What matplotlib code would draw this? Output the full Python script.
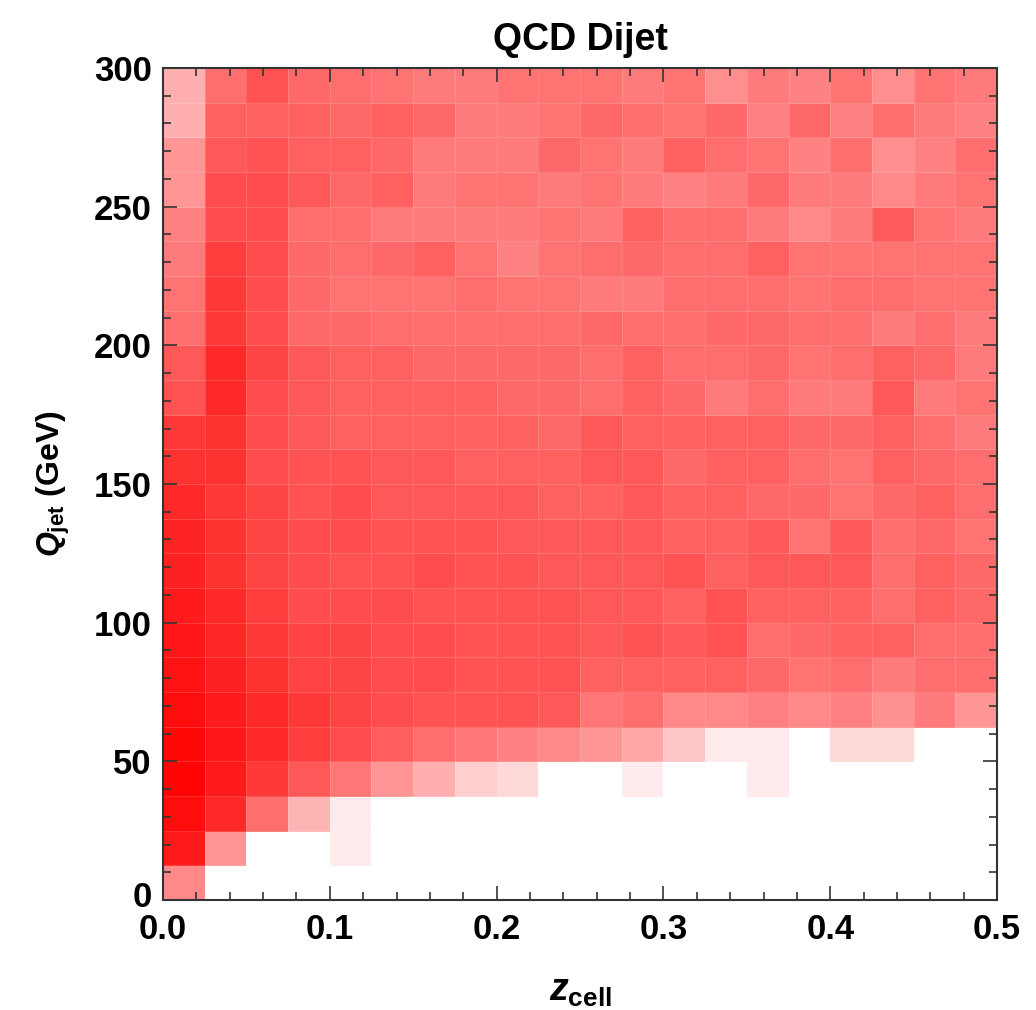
import numpy as np
import matplotlib
matplotlib.use('Agg')
import matplotlib.pyplot as plt
from matplotlib.colors import LinearSegmentedColormap
from matplotlib.transforms import ScaledTranslation

plt.rcParams['font.family'] = ['Liberation Sans', 'DejaVu Sans']
plt.rcParams['font.weight'] = 'bold'
plt.rcParams['mathtext.fontset'] = 'custom'
plt.rcParams['mathtext.it'] = 'Liberation Sans:italic:bold'
plt.rcParams['mathtext.rm'] = 'Liberation Sans:bold'
plt.rcParams['mathtext.bf'] = 'Liberation Sans:bold'

# binning: z_cell 0..0.5 in 20 bins, Q_jet 0..300 GeV in 24 bins
z_edges = np.linspace(0.0, 0.5, 21)
q_edges = np.linspace(0.0, 300.0, 25)

# relative density per bin, one line per Q_jet bin (bottom -> top), columns z_cell 0 -> 0.5
density = [
    [0.50, 0, 0, 0, 0, 0, 0, 0, 0, 0, 0, 0, 0, 0, 0, 0, 0, 0, 0, 0],                                  # 0-12.5
    [0.90, 0.45, 0, 0, 0.10, 0, 0, 0, 0, 0, 0, 0, 0, 0, 0, 0, 0, 0, 0, 0],                            # 12.5-25
    [0.95, 0.85, 0.60, 0.33, 0.10, 0, 0, 0, 0, 0, 0, 0, 0, 0, 0, 0, 0, 0, 0, 0],                      # 25-37.5
    [0.98, 0.90, 0.80, 0.68, 0.57, 0.45, 0.35, 0.22, 0.18, 0, 0, 0.10, 0, 0, 0.10, 0, 0, 0, 0, 0],    # 37.5-50
    [0.97, 0.92, 0.85, 0.78, 0.72, 0.66, 0.60, 0.56, 0.52, 0.50,
     0.45, 0.38, 0.25, 0.10, 0.10, 0, 0.18, 0.18, 0, 0],                                              # 50-62.5
    [0.95, 0.90, 0.85, 0.80, 0.75, 0.72, 0.70, 0.70, 0.70, 0.68,
     0.57, 0.60, 0.50, 0.50, 0.53, 0.50, 0.53, 0.47, 0.55, 0.45],                                     # 62.5-75
    [0.93, 0.88, 0.82, 0.76, 0.75, 0.72, 0.72, 0.70, 0.70, 0.70,
     0.65, 0.65, 0.65, 0.65, 0.62, 0.58, 0.60, 0.55, 0.60, 0.60],                                     # 75-87.5
    [0.92, 0.86, 0.80, 0.76, 0.75, 0.72, 0.72, 0.70, 0.70, 0.70,
     0.68, 0.70, 0.68, 0.70, 0.60, 0.62, 0.65, 0.65, 0.60, 0.60],                                     # 87.5-100
    [0.90, 0.85, 0.78, 0.72, 0.72, 0.72, 0.70, 0.70, 0.70, 0.70,
     0.68, 0.68, 0.65, 0.70, 0.65, 0.65, 0.65, 0.60, 0.65, 0.62],                                     # 100-112.5
    [0.88, 0.82, 0.75, 0.72, 0.70, 0.70, 0.72, 0.70, 0.70, 0.68,
     0.68, 0.68, 0.70, 0.65, 0.68, 0.68, 0.68, 0.60, 0.65, 0.62],                                     # 112.5-125
    [0.87, 0.82, 0.75, 0.72, 0.72, 0.70, 0.70, 0.70, 0.68, 0.68,
     0.68, 0.68, 0.65, 0.65, 0.68, 0.58, 0.68, 0.60, 0.62, 0.58],                                     # 125-137.5
    [0.85, 0.80, 0.75, 0.70, 0.72, 0.68, 0.68, 0.68, 0.68, 0.65,
     0.65, 0.68, 0.65, 0.65, 0.62, 0.62, 0.58, 0.62, 0.65, 0.60],                                     # 137.5-150
    [0.82, 0.82, 0.72, 0.70, 0.70, 0.68, 0.68, 0.65, 0.65, 0.65,
     0.68, 0.68, 0.62, 0.65, 0.65, 0.60, 0.58, 0.65, 0.62, 0.60],                                     # 150-162.5
    [0.80, 0.82, 0.72, 0.68, 0.65, 0.65, 0.65, 0.65, 0.65, 0.62,
     0.68, 0.65, 0.65, 0.65, 0.65, 0.62, 0.62, 0.65, 0.60, 0.55],                                     # 162.5-175
    [0.70, 0.85, 0.72, 0.68, 0.65, 0.65, 0.65, 0.65, 0.62, 0.62,
     0.60, 0.65, 0.62, 0.55, 0.60, 0.55, 0.55, 0.68, 0.55, 0.58],                                     # 175-187.5
    [0.68, 0.85, 0.75, 0.68, 0.65, 0.65, 0.62, 0.62, 0.62, 0.62,
     0.60, 0.65, 0.60, 0.60, 0.62, 0.58, 0.60, 0.65, 0.62, 0.55],                                     # 187.5-200
    [0.60, 0.80, 0.72, 0.62, 0.62, 0.60, 0.60, 0.60, 0.60, 0.60,
     0.62, 0.60, 0.60, 0.62, 0.62, 0.60, 0.60, 0.55, 0.60, 0.55],                                     # 200-212.5
    [0.58, 0.80, 0.72, 0.62, 0.58, 0.58, 0.58, 0.60, 0.58, 0.58,
     0.55, 0.55, 0.60, 0.60, 0.60, 0.58, 0.60, 0.60, 0.58, 0.58],                                     # 212.5-225
    [0.55, 0.78, 0.72, 0.62, 0.60, 0.62, 0.65, 0.58, 0.52, 0.58,
     0.60, 0.62, 0.60, 0.60, 0.65, 0.58, 0.58, 0.58, 0.58, 0.58],                                     # 225-237.5
    [0.53, 0.72, 0.72, 0.60, 0.60, 0.55, 0.55, 0.55, 0.55, 0.58,
     0.55, 0.65, 0.60, 0.60, 0.55, 0.50, 0.55, 0.67, 0.58, 0.55],                                     # 237.5-250
    [0.45, 0.72, 0.72, 0.68, 0.62, 0.65, 0.55, 0.58, 0.58, 0.55,
     0.58, 0.55, 0.52, 0.55, 0.62, 0.55, 0.55, 0.50, 0.55, 0.58],                                     # 250-262.5
    [0.45, 0.68, 0.70, 0.65, 0.65, 0.62, 0.55, 0.55, 0.55, 0.62,
     0.58, 0.55, 0.65, 0.60, 0.58, 0.52, 0.60, 0.48, 0.52, 0.60],                                     # 262.5-275
    [0.35, 0.65, 0.65, 0.65, 0.62, 0.65, 0.62, 0.55, 0.55, 0.58,
     0.62, 0.60, 0.58, 0.62, 0.52, 0.62, 0.52, 0.60, 0.55, 0.52],                                     # 275-287.5
    [0.35, 0.60, 0.70, 0.62, 0.60, 0.58, 0.55, 0.55, 0.58, 0.58,
     0.58, 0.55, 0.58, 0.48, 0.55, 0.52, 0.58, 0.48, 0.58, 0.55],                                     # 287.5-300
]

x_ticks = [0.0, 0.1, 0.2, 0.3, 0.4, 0.5]
x_ticklabels = ['0.0', '0.1', '0.2', '0.3', '0.4', '0.5']
y_ticks = [0, 50, 100, 150, 200, 250, 300]

# white -> pure red, mid tones a touch lighter
cmap = LinearSegmentedColormap.from_list('white_red', ['#ffffff', '#ff0000'], gamma=1.1)

fig = plt.figure(figsize=(10.36, 10.10), dpi=100)
ax = fig.add_axes([0.1573, 0.1089, 0.8051, 0.8238])

ax.pcolormesh(z_edges, q_edges, np.array(density), cmap=cmap, vmin=0, vmax=1,
              edgecolors=(1, 1, 1, 0.15), linewidth=0.6)

ax.set_xlim(0, 0.5)
ax.set_ylim(0, 300)
ax.set_xticks(x_ticks)
ax.set_xticklabels(x_ticklabels)
ax.set_yticks(y_ticks)
ax.set_xticks(np.arange(0, 0.5001, 0.02), minor=True)
ax.set_yticks(np.arange(0, 300.1, 10), minor=True)

ax.tick_params(which='both', direction='in', top=True, right=True, color='#333333', width=1.2)
ax.tick_params(which='major', length=10, labelsize=25)
ax.tick_params(axis='x', which='major', pad=9)
ax.tick_params(axis='y', which='major', pad=8)
ax.tick_params(which='minor', length=6)
for lab in ax.get_xticklabels() + ax.get_yticklabels():
    lab.set_fontweight('bold')
# lift the "0" on the y axis a little so it clears the "0.0" below it
ylab0 = ax.get_yticklabels()[0]
ylab0.set_transform(ylab0.get_transform() + ScaledTranslation(0, 4 / 72, fig.dpi_scale_trans))

for sp in ax.spines.values():
    sp.set_color('#333333')
    sp.set_linewidth(1.5)

ax.set_title('QCD Dijet', fontsize=27, fontweight='bold', pad=13)
ax.set_xlabel(r'$z_{\rm cell}$', fontsize=27, labelpad=20)
ax.set_ylabel(r'$Q_{\rm jet}$ (GeV)', fontsize=23, fontweight='bold', labelpad=16)

plt.savefig('out.png', dpi=100)
